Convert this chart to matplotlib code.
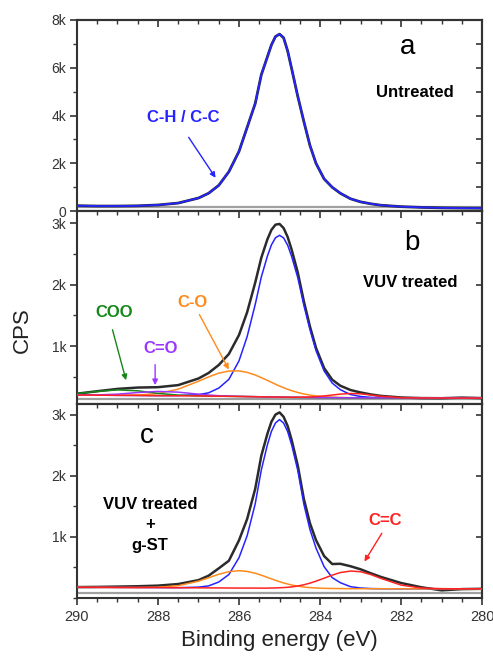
import matplotlib
matplotlib.use('Agg')
import matplotlib.pyplot as plt
from matplotlib.ticker import MultipleLocator, FuncFormatter

plt.rcParams['font.family'] = ['Liberation Sans', 'DejaVu Sans']

# binding energy grid (eV), shared by all three panels
energy = [290.0, 289.5, 289.0, 288.5, 288.0, 287.5, 287.0, 286.75, 286.5, 286.25,
          286.0, 285.8, 285.6, 285.45, 285.3, 285.2, 285.1, 285.0, 284.9, 284.8,
          284.7, 284.55, 284.4, 284.25, 284.1, 283.9, 283.7, 283.5, 283.25, 283.0,
          282.75, 282.5, 282.0, 281.5, 281.0, 280.5, 280.0]

# (a) untreated - data and C-H / C-C fit
a_data = [230, 215, 215, 225, 260, 340, 550, 750, 1080, 1650,
          2500, 3500, 4500, 5700, 6450, 6950, 7300, 7400, 7250, 6700,
          5950, 4800, 3750, 2750, 2000, 1350, 1000, 750, 520, 390,
          310, 250, 190, 160, 140, 130, 125]

# (b) VUV treated
b_data = [222, 262, 300, 322, 328, 362, 470, 560, 690, 870,
          1180, 1550, 2035, 2440, 2740, 2895, 2980, 2992, 2925, 2780,
          2570, 2200, 1730, 1320, 970, 640, 450, 352, 282, 242,
          210, 186, 160, 150, 148, 158, 150]
b_cc = [200, 198, 195, 193, 190, 191, 206, 236, 313, 456,
        758, 1152, 1678, 2125, 2466, 2650, 2767, 2806, 2765, 2646,
        2460, 2116, 1666, 1269, 925, 594, 395, 288, 208, 176,
        162, 157, 153, 152, 151, 150, 150]
b_co = [200, 198, 196, 201, 224, 296, 425, 496, 557, 592,
        594, 570, 527, 484, 439, 408, 377, 347, 320, 294,
        271, 242, 218, 199, 185, 173, 165, 160, 157, 155,
        154, 154, 153, 152, 151, 150, 150]
b_coo = [224, 259, 284, 269, 227, 199, 187, 184, 181, 179,
         177, 175, 173, 171, 169, 168, 167, 166, 165, 164,
         163, 162, 161, 160, 159, 158, 157, 156, 155, 155,
         154, 154, 153, 152, 151, 150, 150]
b_c_o = [201, 202, 214, 241, 259, 247, 214, 200, 189, 183,
         178, 175, 173, 171, 169, 168, 167, 166, 165, 164,
         163, 162, 161, 160, 159, 158, 157, 156, 155, 155,
         154, 154, 153, 152, 151, 150, 150]
b_c_c = [200, 198, 195, 193, 190, 188, 185, 183, 181, 179,
         177, 175, 173, 171, 169, 168, 167, 166, 165, 164,
         164, 164, 165, 168, 174, 185, 200, 215, 225, 220,
         201, 181, 157, 152, 151, 150, 150]

# (c) VUV treated + g-ST
c_data = [178, 181, 186, 192, 202, 228, 292, 365, 485, 610,
          945, 1292, 1788, 2330, 2689, 2888, 3005, 3041, 2969, 2818,
          2587, 2170, 1623, 1226, 948, 687, 556, 560, 520, 470,
          405, 345, 245, 175, 125, 145, 150]
c_cc = [175, 174, 172, 171, 170, 168, 177, 198, 261, 384,
        660, 1018, 1543, 2096, 2509, 2730, 2868, 2923, 2867, 2728,
        2506, 2092, 1538, 1123, 818, 513, 333, 250, 185, 163,
        154, 151, 150, 150, 150, 150, 150]
c_co = [175, 174, 172, 172, 176, 201, 275, 331, 388, 431,
        447, 435, 405, 373, 337, 313, 289, 267, 246, 229,
        212, 194, 179, 170, 163, 158, 155, 154, 152, 152,
        151, 151, 150, 150, 150, 150, 150]
c_c_c = [175, 174, 172, 171, 170, 168, 166, 165, 164, 163,
         162, 162, 162, 161, 161, 163, 164, 167, 170, 175,
         181, 196, 216, 243, 275, 324, 374, 416, 441, 430,
         384, 321, 211, 163, 152, 150, 150]

BLUE = '#2424ff'
ORANGE = '#ff8a1c'
GREEN = '#17871a'
PURPLE = '#9b35ff'
RED = '#ff2222'
BLACK = '#2b2b2b'
AXIS = '#333333'

fig = plt.figure(figsize=(4.93, 6.6), dpi=100)
ax_a = fig.add_axes([0.156, 0.680, 0.822, 0.290])
ax_b = fig.add_axes([0.156, 0.388, 0.822, 0.292])
ax_c = fig.add_axes([0.156, 0.094, 0.822, 0.294])


def kfmt(v, pos):
    if v == 0:
        return '0'
    return f'{v / 1000:g}k'


def style_axis(ax, ylim, yticks, minor, grey_y, bottom=False):
    ax.set_xlim(290, 280)
    ax.set_ylim(*ylim)
    ax.xaxis.set_major_locator(MultipleLocator(2))
    ax.xaxis.set_minor_locator(MultipleLocator(0.5))
    ax.set_yticks(yticks)
    ax.yaxis.set_minor_locator(MultipleLocator(minor))
    ax.yaxis.set_major_formatter(FuncFormatter(kfmt))
    # bottom / left ticks point outwards
    ax.tick_params(which='both', direction='out', colors=AXIS,
                   top=False, right=False, bottom=bottom,
                   labelbottom=bottom)
    ax.tick_params(axis='x', labelsize=10.5)
    ax.tick_params(axis='y', labelsize=10, pad=2.5)
    ax.tick_params(which='major', length=5, width=1.2)
    ax.tick_params(which='minor', length=3, width=1.0)
    for s in ax.spines.values():
        s.set_linewidth(1.5)
        s.set_color(AXIS)

    # top / right ticks point inwards
    top = ax.secondary_xaxis('top')
    top.xaxis.set_major_locator(MultipleLocator(2))
    top.xaxis.set_minor_locator(MultipleLocator(0.5))
    top.tick_params(which='both', direction='in', labeltop=False, colors=AXIS)
    top.tick_params(which='major', length=5, width=1.2)
    top.tick_params(which='minor', length=3, width=1.0)
    right = ax.secondary_yaxis('right')
    right.yaxis.set_major_locator(MultipleLocator(minor * 2 if minor < 1000 else minor))
    right.tick_params(which='both', direction='in', labelright=False, colors=AXIS,
                      length=4, width=1.2)
    for sec in (top, right):
        for s in sec.spines.values():
            s.set_linewidth(1.5)
            s.set_color(AXIS)

    ax.axhline(grey_y, color='#a0a0a0', lw=1.6, zorder=1)


style_axis(ax_a, (0, 8000), [0, 2000, 4000, 6000, 8000], 1000, 190)
style_axis(ax_b, (55, 3200), [1000, 2000, 3000], 500, 135)
style_axis(ax_c, (0, 3180), [1000, 2000, 3000], 500, 80, bottom=True)

# (a)
ax_a.plot(energy, a_data, color=BLACK, lw=2.0, zorder=2)
ax_a.plot(energy, a_data, color=BLUE, lw=1.3, zorder=3)
ax_a.text(281.83, 6870, 'a', fontsize=20, ha='center', va='center')
ax_a.text(281.65, 4944, 'Untreated', fontsize=12, fontweight='bold',
          ha='center', va='center')
ax_a.text(287.38, 3897, 'C-H / C-C', fontsize=12, fontweight='bold',
          color=BLUE, ha='center', va='center')
ax_a.annotate('', xy=(286.54, 1300), xytext=(287.28, 3184),
              arrowprops=dict(arrowstyle='-|>', color=BLUE, lw=1.0,
                              mutation_scale=8))

# (b)
ax_b.plot(energy, b_data, color=BLACK, lw=1.8, zorder=2)
ax_b.plot(energy, b_cc, color=BLUE, lw=1.1, zorder=3)
ax_b.plot(energy, b_co, color=ORANGE, lw=1.1, zorder=3)
ax_b.plot(energy, b_coo, color=GREEN, lw=1.1, zorder=3)
ax_b.plot(energy, b_c_o, color=PURPLE, lw=1.1, zorder=3)
ax_b.plot(energy, b_c_c, color=RED, lw=1.1, zorder=3)
ax_b.text(281.73, 2675, 'b', fontsize=20, ha='center', va='center')
ax_b.text(281.78, 2041, 'VUV treated', fontsize=12, fontweight='bold',
          ha='center', va='center')
ax_b.text(289.09, 1553, 'COO', fontsize=12, fontweight='bold', color=GREEN,
          ha='center', va='center')
ax_b.annotate('', xy=(288.77, 398), xytext=(289.14, 1309),
              arrowprops=dict(arrowstyle='-|>', color=GREEN, lw=1.0,
                              mutation_scale=8))
ax_b.text(287.93, 967, 'C=O', fontsize=12, fontweight='bold', color=PURPLE,
          ha='center', va='center')
ax_b.annotate('', xy=(288.07, 317), xytext=(288.07, 740),
              arrowprops=dict(arrowstyle='-|>', color=PURPLE, lw=1.0,
                              mutation_scale=8))
ax_b.text(287.14, 1716, 'C-O', fontsize=12, fontweight='bold', color=ORANGE,
          ha='center', va='center')
ax_b.annotate('', xy=(286.22, 577), xytext=(287.01, 1553),
              arrowprops=dict(arrowstyle='-|>', color=ORANGE, lw=1.0,
                              mutation_scale=8))

# (c)
ax_c.plot(energy, c_data, color=BLACK, lw=1.8, zorder=2)
ax_c.plot(energy, c_cc, color=BLUE, lw=1.1, zorder=3)
ax_c.plot(energy, c_co, color=ORANGE, lw=1.1, zorder=3)
ax_c.plot(energy, c_c_c, color=RED, lw=1.1, zorder=3)
ax_c.text(288.27, 2657, 'c', fontsize=20, ha='center', va='center')
ax_c.text(288.2, 1197, 'VUV treated\n+\ng-ST', fontsize=12, fontweight='bold',
          ha='center', va='center', linespacing=1.45)
ax_c.text(282.4, 1263, 'C=C', fontsize=12, fontweight='bold', color=RED,
          ha='center', va='center')
ax_c.annotate('', xy=(282.94, 558), xytext=(282.44, 1099),
              arrowprops=dict(arrowstyle='-|>', color=RED, lw=1.0,
                              mutation_scale=8))

fig.text(0.045, 0.50, 'CPS', rotation=90, fontsize=16, ha='center',
         va='center', color='#222222')
fig.text(0.567, 0.030, 'Binding energy (eV)', fontsize=16, ha='center',
         va='center', color='#222222')

fig.savefig('out.png', dpi=100)
